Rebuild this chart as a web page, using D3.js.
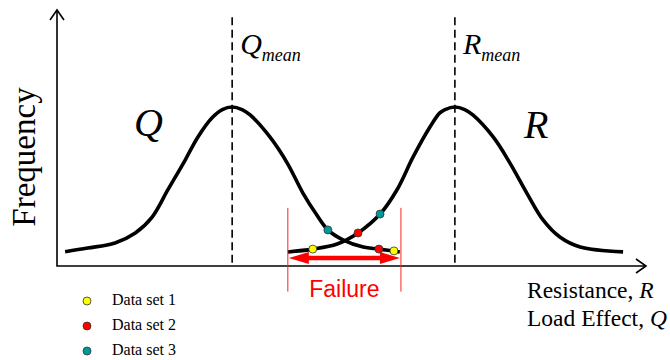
<!doctype html>
<html lang="en">
  <head>
    <title>Load and resistance distributions</title>
    <style>
      body {
        margin: 0;
        background: #fff;
      }
      text {
        font-family: "Liberation Serif", "Times New Roman", serif;
      }
    </style>
  </head>
  <body>
    <div id="chart"></div>

    <script src="https://cdn.jsdelivr.net/npm/d3@7/dist/d3.min.js"></script>
    <script>
      // curves (x: effect / resistance, y: frequency)
      const loadX = [0.14, 0.53, 1.0, 1.35, 1.64, 1.91, 2.21, 2.43, 2.67, 2.85, 3.02, 3.19, 3.33, 3.67, 3.97, 4.24, 4.48, 4.67, 4.93, 5.28, 5.55, 5.91]
      const loadY = [0.056, 0.070, 0.090, 0.129, 0.191, 0.297, 0.414, 0.504, 0.578, 0.611, 0.621, 0.611, 0.590, 0.504, 0.402, 0.285, 0.199, 0.141, 0.102, 0.074, 0.066, 0.055]
      const resX = [3.98, 4.41, 4.83, 5.19, 5.57, 5.86, 6.14, 6.43, 6.60, 6.69, 6.86, 7.03, 7.17, 7.52, 7.81, 8.10, 8.38, 8.67, 9.02, 9.76]
      const resY = [0.055, 0.066, 0.086, 0.129, 0.203, 0.297, 0.426, 0.543, 0.598, 0.611, 0.621, 0.611, 0.590, 0.504, 0.402, 0.285, 0.180, 0.113, 0.074, 0.055]

      const qMean = 3.02
      const rMean = 6.86
      const failureRange = [3.98, 5.93]

      const setNames = ['Data set 1', 'Data set 2', 'Data set 3']
      const setColors = ['#ffff00', '#ff0000', '#009999']
      const setX = [[4.41, 5.81], [5.19, 5.55], [4.67, 5.57]]
      const setY = [[0.066, 0.059], [0.129, 0.066], [0.141, 0.203]]

      const width = 670
      const height = 360

      const x = d3.scaleLinear().domain([0, 10]).range([57, 637])
      const y = d3.scaleLinear().domain([0, 1]).range([266, 10])

      const svg = d3.select('#chart')
        .append('svg')
          .attr('width', width)
          .attr('height', height)

      // axes with open arrow heads
      const x0 = x(0)
      const y0 = y(0)
      const xEnd = x.range()[1] + 9
      const yEnd = y.range()[1]
      svg.append('path')
        .attr('d', `M${x0},${yEnd}V${y0}H${xEnd}`)
        .attr('fill', 'none')
        .attr('stroke', '#000')
        .attr('stroke-width', 1.6)
      svg.append('path')
        .attr('d', `M${x0 - 7},${yEnd + 10}L${x0},${yEnd}L${x0 + 7},${yEnd + 10}`)
        .attr('fill', 'none')
        .attr('stroke', '#000')
        .attr('stroke-width', 1.6)
      svg.append('path')
        .attr('d', `M${xEnd - 10},${y0 - 7}L${xEnd},${y0}L${xEnd - 10},${y0 + 7}`)
        .attr('fill', 'none')
        .attr('stroke', '#000')
        .attr('stroke-width', 1.6)

      // mean lines
      svg.selectAll('.mean')
        .data([qMean, rMean])
        .enter()
          .append('line')
            .attr('class', 'mean')
            .attr('x1', d => x(d))
            .attr('x2', d => x(d))
            .attr('y1', y(0.972))
            .attr('y2', y0)
            .attr('stroke', '#000')
            .attr('stroke-width', 1.6)
            .attr('stroke-dasharray', '8,4.5')

      const line = d3.line()
        .x(d => x(d[0]))
        .y(d => y(d[1]))
        .curve(d3.curveCatmullRom.alpha(0.5))

      const curves = [d3.zip(loadX, loadY), d3.zip(resX, resY)]
      svg.selectAll('.curve')
        .data(curves)
        .enter()
          .append('path')
            .attr('class', 'curve')
            .attr('d', line)
            .attr('fill', 'none')
            .attr('stroke', '#000')
            .attr('stroke-width', 3.6)
            .attr('stroke-linecap', 'butt')

      // failure zone
      svg.selectAll('.fail-edge')
        .data(failureRange)
        .enter()
          .append('line')
            .attr('class', 'fail-edge')
            .attr('x1', d => x(d))
            .attr('x2', d => x(d))
            .attr('y1', y(0.227))
            .attr('y2', y(-0.1))
            .attr('stroke', '#ff2020')
            .attr('stroke-width', 1)

      const fa = x(failureRange[0]) + 1
      const fb = x(failureRange[1]) - 1
      const fy = y(0.031)
      svg.append('line')
        .attr('x1', fa + 14)
        .attr('x2', fb - 14)
        .attr('y1', fy)
        .attr('y2', fy)
        .attr('stroke', '#ff0000')
        .attr('stroke-width', 4.5)
      svg.append('path')
        .attr('d', `M${fa},${fy}L${fa + 20},${fy - 6}L${fa + 20},${fy + 6}Z M${fb},${fy}L${fb - 20},${fy - 6}L${fb - 20},${fy + 6}Z`)
        .attr('fill', '#ff0000')

      svg.append('text')
        .attr('x', (x(failureRange[0]) + x(failureRange[1])) / 2)
        .attr('y', 297)
        .attr('text-anchor', 'middle')
        .attr('fill', '#ff0000')
        .style('font-family', '"Liberation Sans", Arial, sans-serif')
        .style('font-size', '23px')
        .text('Failure')

      // data set points
      setNames.forEach((name, i) => {
        svg.selectAll(`.set${i}`)
          .data(d3.zip(setX[i], setY[i]))
          .enter()
            .append('circle')
              .attr('class', `set${i}`)
              .attr('cx', d => x(d[0]))
              .attr('cy', d => y(d[1]))
              .attr('r', 4)
              .attr('fill', setColors[i])
              .attr('stroke', '#333')
              .attr('stroke-width', 0.8)
      })

      // legend
      const legend = svg.append('g')
        .attr('transform', 'translate(87, 301)')
      const items = legend.selectAll('g')
        .data(setNames)
        .enter()
          .append('g')
            .attr('transform', (d, i) => `translate(0, ${i * 25})`)
      items.append('circle')
        .attr('r', 4)
        .attr('fill', (d, i) => setColors[i])
        .attr('stroke', '#333')
        .attr('stroke-width', 0.8)
      items.append('text')
        .attr('x', 25)
        .attr('y', 4)
        .style('font-size', '16px')
        .text(d => d)

      // labels
      svg.append('text')
        .attr('transform', 'translate(35, 157) rotate(-90)')
        .attr('text-anchor', 'middle')
        .style('font-size', '33px')
        .text('Frequency')

      const meanLabels = [['Q', qMean], ['R', rMean]]
      meanLabels.forEach(([sym, m]) => {
        const t = svg.append('text')
          .attr('x', x(m) + 8)
          .attr('y', 54)
          .style('font-style', 'italic')
        t.append('tspan')
          .style('font-size', '30px')
          .text(sym)
        t.append('tspan')
          .attr('dy', 7)
          .style('font-size', '18px')
          .text('mean')
      })

      svg.append('text')
        .attr('x', 134)
        .attr('y', 136)
        .style('font-style', 'italic')
        .style('font-size', '40px')
        .text('Q')
      svg.append('text')
        .attr('x', 524)
        .attr('y', 138)
        .style('font-style', 'italic')
        .style('font-size', '40px')
        .text('R')

      const axisLabels = [['Resistance, ', 'R', 298], ['Load Effect, ', 'Q', 326]]
      axisLabels.forEach(([txt, sym, yy]) => {
        const t = svg.append('text')
          .attr('x', 527)
          .attr('y', yy)
          .style('font-size', '23.5px')
        t.append('tspan').text(txt)
        t.append('tspan').style('font-style', 'italic').text(sym)
      })
    </script>
  </body>
</html>
